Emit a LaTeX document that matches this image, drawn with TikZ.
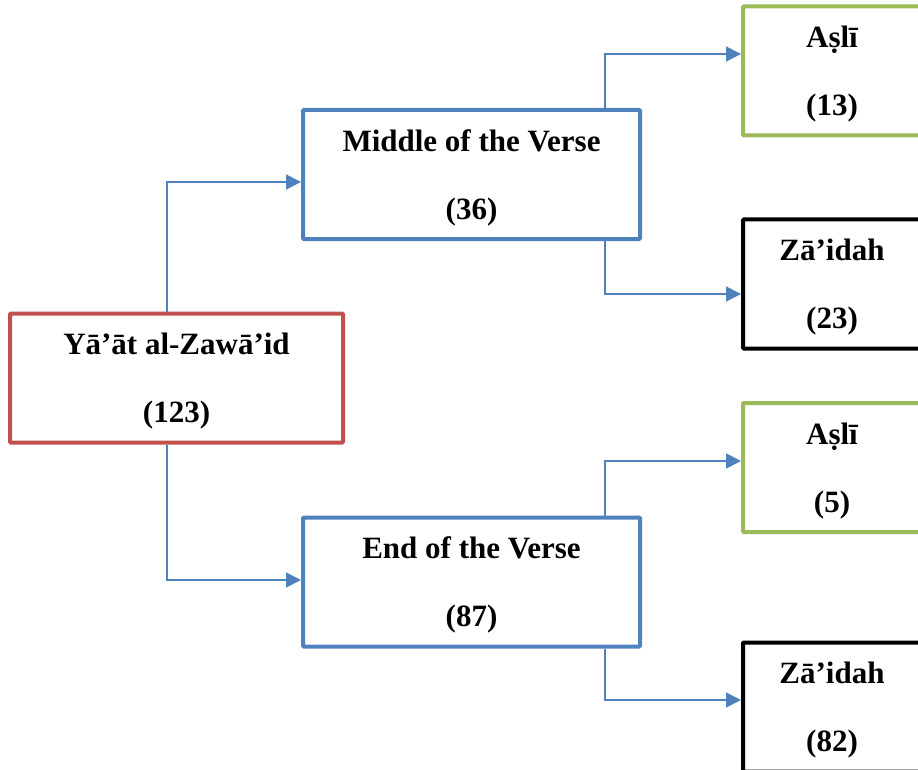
\documentclass[tikz,border=0pt]{standalone}
\usepackage{fontspec}
\setmainfont{Liberation Serif}
\usetikzlibrary{arrows.meta,calc}
\definecolor{ored}{HTML}{C0504D}
\definecolor{oblue}{HTML}{4F81BD}
\definecolor{ogreen}{HTML}{9BBB59}
\newcommand{\topstrut}{\rule{0pt}{28pt}}
\begin{document}
\begin{tikzpicture}[x=1pt,y=-1pt,
  box/.style={draw, line width=4pt, rectangle, rounded corners=1pt, align=center, inner sep=0pt,
    font=\bfseries\fontsize{31}{37}\selectfont, minimum height=129pt},
  conn/.style={draw=oblue, line width=1.8pt, -{Triangle[length=15pt,width=15pt]}}]
\useasboundingbox (0,0) rectangle (918,770);
\node[box, draw=ored, minimum width=333pt] (yaat) at (176.5,378) {\topstrut Yā’āt al-Zawā’id\\[31pt](123)};
\node[box, draw=oblue, minimum width=337pt] (mid) at (471.5,174.5) {\topstrut Middle of the Verse\\[31pt](36)};
\node[box, draw=oblue, minimum width=337pt] (end) at (471.5,582) {\topstrut End of the Verse\\[31pt](87)};
\node[box, draw=ogreen, minimum width=178pt] (a1) at (832,71) {\topstrut Aṣlī\\[31pt](13)};
\node[box, draw=black, minimum width=178pt] (z1) at (832,284) {\topstrut Zā’idah\\[31pt](23)};
\node[box, draw=ogreen, minimum width=178pt] (a2) at (832,467.5) {\topstrut Aṣlī\\[31pt](5)};
\node[box, draw=black, minimum width=178pt] (z2) at (832,707) {\topstrut Zā’idah\\[31pt](82)};
\draw[conn] ($(yaat.north)+(-9.5,0)$) |- ($(mid.west)+(0,7.5)$);
\draw[conn] ($(yaat.south)+(-9.5,0)$) |- ($(end.west)+(0,-2)$);
\draw[conn] ($(mid.north)+(133.5,0)$) |- ($(a1.west)+(0,-17)$);
\draw[conn] ($(mid.south)+(133.5,0)$) |- ($(z1.west)+(0,10)$);
\draw[conn] ($(end.north)+(133.5,0)$) |- ($(a2.west)+(0,-6.5)$);
\draw[conn] ($(end.south)+(133.5,0)$) |- ($(z2.west)+(0,-7)$);
\end{tikzpicture}
\end{document}
